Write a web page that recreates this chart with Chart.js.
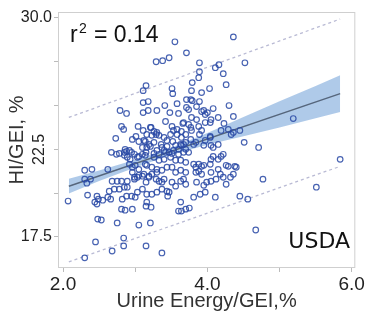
<!DOCTYPE html>
<html>
<head>
<meta charset="utf-8">
<script src="https://cdn.jsdelivr.net/npm/chart.js@4"></script>
<style>
html, body { margin: 0; padding: 0; background: #fff; }
#wrap { width: 366px; height: 317px; }
</style>
</head>
<body>
<div id="wrap"><canvas id="myChart" width="366" height="317"></canvas></div>
<script>
// scatter points: urine energy (% GEI) vs heat increment (% GEI)
const urineX = [
	4.36,3.55,3.71,3.29,3.38,3.47,3.89,4.52,4.11,4.16,
	3.89,3.88,4.22,3.79,4.26,3.15,3.11,3.51,3.52,3.78,
	3.92,4.03,3.71,3.77,3.79,3.11,3.18,3.41,3.58,3.89,
	3.71,3.74,3.85,4.30,2.79,2.88,3.11,3.18,3.30,3.48,
	3.60,3.92,3.97,4.00,4.08,3.78,3.85,4.15,4.36,4.04,
	4.23,2.81,2.84,3.04,3.11,3.21,3.26,3.30,3.42,3.51,
	3.53,3.49,3.66,3.74,3.77,3.64,3.70,3.88,3.89,5.19,
	4.33,4.45,4.04,2.73,2.96,3.01,3.05,3.14,3.21,3.10,
	3.29,3.36,3.37,3.44,3.52,3.56,3.63,3.70,3.77,3.84,
	3.95,4.05,4.15,4.51,4.71,2.67,2.74,2.78,2.85,2.88,
	2.95,2.99,3.05,3.15,3.26,3.33,3.42,3.51,3.60,3.67,
	3.74,4.08,4.19,5.84,2.30,2.40,2.62,2.33,2.34,2.07,
	2.47,2.49,2.55,2.44,2.47,2.48,2.53,2.75,2.45,2.68,
	2.84,2.84,2.30,3.05,3.21,3.15,3.37,2.81,2.86,2.96,
	2.64,2.71,2.78,2.85,2.89,2.82,2.95,2.88,2.68,2.75,
	2.81,2.89,2.99,3.03,3.10,3.15,3.19,3.23,3.30,3.33,
	3.37,3.10,3.16,3.23,3.30,3.15,3.16,3.22,3.37,3.44,
	3.47,3.51,3.56,3.63,3.67,3.63,3.60,3.64,3.70,3.75,
	3.81,3.90,3.97,3.99,4.05,4.12,4.05,4.18,4.26,4.11,
	3.88,3.92,3.88,3.84,4.05,4.15,4.22,4.29,4.38,4.45,
	4.56,4.77,4.67,5.51,4.40,
	2.86,2.92,2.85,2.89,2.93,3.03,3.10,3.14,2.92,2.96,
	3.00,3.05,2.30,2.38,2.96,2.99,3.05,3.12,3.14,3.16,
	3.95,3.67,3.97,4.05,3.22,3.58,
	3.78,3.92,3.16,3.23,3.33,3.40,3.58,3.64,
	3.12,3.19,3.26,3.44,3.67,3.30,
	3.40,3.47,3.53,3.60,3.64,3.70,3.81,
	3.97,4.04,4.19,4.29,4.36,4.08,
	3.26,3.33,3.40,3.49,3.56,3.63,3.70,3.81,3.95,4.04,
	4.15,4.26,3.16,3.23,3.30,3.37,3.44,3.51,3.56,3.63,
	3.70,3.84,3.92,4.22,4.32,3.19,3.29,3.40,
	3.70,3.85,3.95,4.36,
	2.62,2.66,3.00,3.03,3.45
];
const hiY = [
	28.92,28.64,28.01,27.50,27.56,27.73,27.44,27.44,27.16,27.33,
	26.93,26.59,26.82,26.31,26.19,26.14,25.85,25.97,25.68,25.85,
	25.74,25.97,25.34,25.34,25.28,25.17,25.23,25.00,25.11,25.23,
	24.89,24.77,24.94,25.00,24.72,24.55,24.60,24.72,24.72,24.60,
	24.55,24.66,24.49,24.60,24.83,24.32,24.20,24.32,24.38,24.03,
	23.98,23.81,23.64,23.81,23.58,23.75,23.52,23.47,24.09,23.81,
	23.58,23.35,23.98,23.92,23.75,23.52,23.35,23.81,23.35,24.26,
	23.35,23.58,23.24,23.13,23.07,23.24,22.95,22.95,22.67,22.61,
	23.35,22.78,22.61,22.67,22.95,22.73,22.78,22.90,23.07,22.90,
	22.73,22.73,22.78,22.90,22.61,22.33,22.22,22.27,22.33,22.39,
	22.33,22.22,22.10,22.33,22.27,22.22,22.33,22.27,22.22,22.33,
	22.33,22.10,22.10,21.93,21.31,21.36,21.36,20.57,19.89,19.55,
	19.83,19.66,19.60,19.49,19.38,18.52,18.47,18.30,17.22,16.70,
	17.44,16.99,16.31,18.18,18.30,16.99,16.59,19.09,19.03,19.09,
	20.11,20.23,20.23,20.34,20.34,19.66,19.83,19.83,20.68,20.68,
	20.68,20.68,20.80,20.91,20.97,20.63,20.97,21.08,21.19,20.68,
	20.63,20.23,19.94,19.94,20.06,19.26,19.49,19.20,20.23,20.11,
	20.06,20.63,20.40,20.68,20.80,19.49,18.98,18.98,19.09,19.15,
	19.77,19.94,20.06,20.63,20.68,20.80,21.19,21.08,20.51,19.77,
	21.25,21.53,21.65,21.48,21.93,21.93,22.22,21.53,21.53,19.83,
	19.66,20.80,17.90,20.34,21.48,
	22.50,22.44,22.16,22.05,21.93,22.05,22.22,22.16,21.65,21.48,
	21.59,21.36,20.80,20.80,21.19,20.91,21.02,21.08,21.65,22.61,
	24.72,24.03,24.03,24.20,23.75,23.64,
	23.58,23.58,23.35,23.30,23.30,23.18,23.35,23.18,
	23.01,22.78,22.90,23.01,22.78,22.44,
	22.44,22.33,22.44,22.50,22.73,22.50,22.78,
	23.01,23.18,23.58,23.64,23.47,22.61,
	22.05,21.88,21.93,22.05,21.88,21.88,21.76,21.65,21.59,21.65,
	21.36,21.59,21.59,21.48,21.36,21.31,21.48,21.48,21.19,21.31,
	21.19,21.19,21.08,20.91,20.91,20.91,20.80,20.80,
	20.51,20.63,20.45,21.08,
	19.77,19.66,19.77,20.06,19.83
];

// regression line, its confidence band and prediction limits
const fitX = [2.08, 5.84];
const fitY = [20.40, 25.68];
const bandX = [2.08, 2.5, 3.0, 3.45, 4.0, 4.5, 5.0, 5.5, 5.84];
const bandLow = [19.98, 20.69, 21.47, 22.12, 22.77, 23.25, 23.75, 24.28, 24.63];
const bandHigh = [20.82, 21.29, 21.91, 22.52, 23.43, 24.35, 25.25, 26.12, 26.73];
const predX = [2.08, 5.84];
const predLow = [16.08, 21.53];
const predHigh = [24.32, 29.94];

// axis ticks
const xTicks = [2, 3, 4, 5, 6];
const xLabels = [2, 4, 6];
const yTicks = [17.5, 20, 22.5, 25, 27.5, 30];
const yLabels = [17.5, 30];

const FONT = '"Liberation Sans", Arial, sans-serif';

function pairs(xs, ys) {
	return xs.map((x, i) => ({x: x, y: ys[i]}));
}

//draws frame, r² note, group label and the rotated middle y label
const decorPlugin = {
	id: 'decor',
	afterDraw(chart) {
		const ctx = chart.ctx;
		const a = chart.chartArea;
		const yScale = chart.scales.y;
		ctx.save();
		ctx.strokeStyle = '#cfcfcf';
		ctx.lineWidth = 1;
		ctx.strokeRect(a.left + 0.5, a.top + 0.5, a.width - 1, a.height - 1);

		// r² with a real superscript
		ctx.fillStyle = '#111';
		ctx.textAlign = 'left';
		ctx.textBaseline = 'alphabetic';
		ctx.font = '23px ' + FONT;
		ctx.fillText('r', 70, 42);
		ctx.font = '14px ' + FONT;
		ctx.fillText('2', 79, 33);
		ctx.font = '23px ' + FONT;
		ctx.fillText('= 0.14', 94, 42);

		ctx.font = '22px "DejaVu Sans", sans-serif';
		ctx.textAlign = 'right';
		ctx.textBaseline = 'middle';
		ctx.fillText('USDA', 350, 242);

		ctx.fillStyle = '#222';
		ctx.font = '16px ' + FONT;
		ctx.translate(40, yScale.getPixelForValue(22.5));
		ctx.rotate(-Math.PI / 2);
		ctx.textAlign = 'center';
		ctx.fillText('22.5', 0, 0);
		ctx.restore();
	}
};

const ctx = document.getElementById('myChart').getContext('2d');
new Chart(ctx, {
	type: 'scatter',
	data: {
		datasets: [{
			label: 'points',
			data: pairs(urineX, hiY),
			order: 0,
			pointRadius: 2.8,
			pointBorderWidth: 1.2,
			pointBackgroundColor: 'rgba(0,0,0,0)',
			pointBorderColor: 'rgba(40, 72, 165, 0.85)',
			showLine: false
		}, {
			label: 'fit',
			data: pairs(fitX, fitY),
			order: 1,
			showLine: true,
			borderColor: '#56667c',
			borderWidth: 1.5,
			pointRadius: 0
		}, {
			label: 'band low',
			data: pairs(bandX, bandLow),
			order: 2,
			showLine: true,
			borderWidth: 0,
			borderColor: 'rgba(0,0,0,0)',
			pointRadius: 0,
			fill: false
		}, {
			label: 'band high',
			data: pairs(bandX, bandHigh),
			order: 3,
			showLine: true,
			borderWidth: 0,
			borderColor: 'rgba(0,0,0,0)',
			backgroundColor: 'rgba(110, 158, 215, 0.55)',
			pointRadius: 0,
			fill: '-1'
		}, {
			label: 'pred low',
			data: pairs(predX, predLow),
			order: 4,
			showLine: true,
			borderColor: '#b9bad4',
			borderWidth: 1.3,
			borderDash: [3, 3],
			pointRadius: 0
		}, {
			label: 'pred high',
			data: pairs(predX, predHigh),
			order: 5,
			showLine: true,
			borderColor: '#b9bad4',
			borderWidth: 1.3,
			borderDash: [3, 3],
			pointRadius: 0
		}]
	},
	options: {
		responsive: false,
		devicePixelRatio: 1,
		animation: false,
		layout: {
			padding: {top: 12, right: 7, left: 0, bottom: 0}
		},
		plugins: {
			legend: {display: false},
			tooltip: {enabled: false}
		},
		scales: {
			x: {
				type: 'linear',
				min: 1.93,
				max: 6.05,
				afterBuildTicks: s => { s.ticks = xTicks.map(v => ({value: v})); },
				afterFit: s => { s.height = 49; },
				ticks: {
					callback: v => xLabels.includes(v) ? v.toFixed(1) : '',
					font: {size: 19, family: FONT},
					color: '#222',
					padding: 1,
					maxRotation: 0,
					autoSkip: false
				},
				grid: {drawOnChartArea: false, drawTicks: true, tickLength: 4, color: '#bbb'},
				border: {display: false},
				title: {
					display: true,
					text: 'Urine Energy/GEI,%',
					font: {size: 20, family: FONT},
					color: '#333',
					padding: {top: 0, bottom: 4}
				}
			},
			y: {
				type: 'linear',
				min: 15.73,
				max: 30.34,
				afterBuildTicks: s => { s.ticks = yTicks.map(v => ({value: v})); },
				afterFit: s => { s.width = 58; },
				ticks: {
					callback: v => yLabels.includes(v) ? v.toFixed(1) : '',
					font: {size: 16, family: FONT},
					color: '#222',
					padding: 2,
					autoSkip: false
				},
				grid: {drawOnChartArea: false, drawTicks: true, tickLength: 4, color: '#bbb'},
				border: {display: false},
				title: {
					display: true,
					text: 'HI/GEI, %',
					font: {size: 20, family: FONT},
					color: '#333',
					padding: {top: 5, bottom: 0}
				}
			}
		}
	},
	plugins: [decorPlugin]
});
</script>
</body>
</html>
